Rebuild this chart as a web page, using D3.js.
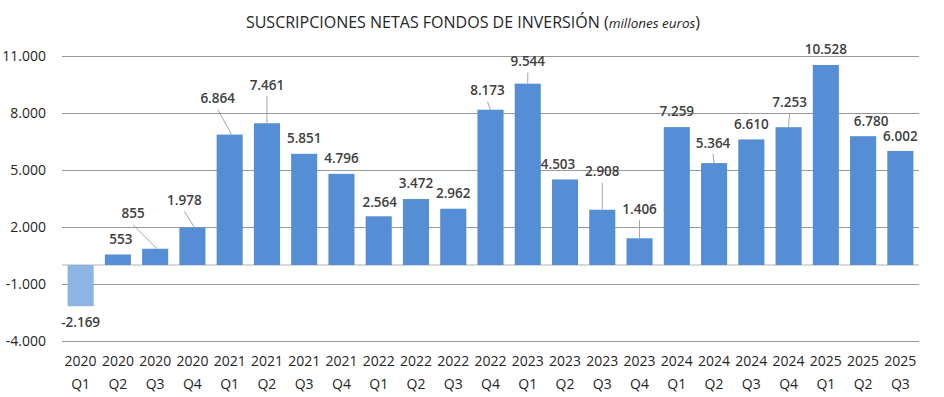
<!DOCTYPE html>
<html>
<head>
<meta charset="utf-8">
<script src="https://cdn.jsdelivr.net/npm/d3@7"></script>
<style>
  html, body { margin: 0; padding: 0; background: #fff; }
  svg { display: block; font-family: "Open Sans", "Noto Sans", sans-serif; }
</style>
</head>
<body>
<div id="chart"></div>
<script>
// data
const years = ['2020', '2020', '2020', '2020', '2021', '2021', '2021', '2021', '2022', '2022', '2022', '2022',
  '2023', '2023', '2023', '2023', '2024', '2024', '2024', '2024', '2025', '2025', '2025'];
const quarters = ['Q1', 'Q2', 'Q3', 'Q4', 'Q1', 'Q2', 'Q3', 'Q4', 'Q1', 'Q2', 'Q3', 'Q4',
  'Q1', 'Q2', 'Q3', 'Q4', 'Q1', 'Q2', 'Q3', 'Q4', 'Q1', 'Q2', 'Q3'];
const values = [-2169, 553, 855, 1978, 6864, 7461, 5851, 4796, 2564, 3472, 2962, 8173,
  9544, 4503, 2908, 1406, 7259, 5364, 6610, 7253, 10528, 6780, 6002];
const yTicks = [-4000, -1000, 2000, 5000, 8000, 11000];

// label placement tweaks (offset from bar end), and which labels get a leader line
const labelDx = [0, 3, -22, -8, -12, 0, 0, 0, 1, 0, 0, -3, 0, -7, 0, 0, 0, -1, 0, 1, 0, 8, 0];
const labelDy = [16, -15, -35, -27, -36, -38, -16, -16, -14, -16, -15, -19, -22, -15, -38, -29, -16, -20, -15, -25, -16, -15, -15];
const leader = [0, 0, 1, 1, 1, 1, 0, 0, 0, 0, 0, 1, 1, 0, 1, 1, 0, 1, 0, 1, 0, 0, 0];

const W = 944, H = 397;
const keys = values.map((_, i) => i);

const locale = d3.formatLocale({ decimal: ',', thousands: '.', grouping: [3], currency: ['', '€'], minus: '-' });
const fmt = locale.format(',d');

const svg = d3.select('#chart').append('svg')
  .attr('width', W)
  .attr('height', H);

const x = d3.scaleBand()
  .domain(keys)
  .range([62, 919])
  .paddingInner(0.3)
  .paddingOuter(0.15);

const y = d3.scaleLinear()
  .domain([-4000, 11000])
  .range([341, 56]);

// title
const title = svg.append('text')
  .attr('x', 473)
  .attr('y', 28)
  .attr('text-anchor', 'middle')
  .attr('fill', '#262626')
  .attr('font-size', '16px');
title.append('tspan').text('SUSCRIPCIONES NETAS FONDOS DE INVERSIÓN (');
title.append('tspan').attr('font-style', 'italic').attr('font-size', '13.5px').text('millones euros');
title.append('tspan').text(')');

// grid + y labels
const yAxis = svg.append('g')
  .attr('transform', 'translate(62,0)')
  .call(d3.axisLeft(y).tickValues(yTicks).tickSize(-857).tickPadding(16).tickFormat(fmt));
yAxis.select('.domain').remove();
yAxis.selectAll('.tick line').attr('stroke', '#999').attr('stroke-width', 1.2);
yAxis.selectAll('.tick text')
  .attr('fill', '#262626')
  .attr('font-size', '14px')
  .attr('font-family', '"Open Sans", sans-serif');

// zero line
svg.append('line')
  .attr('x1', 62).attr('x2', 919)
  .attr('y1', y(0)).attr('y2', y(0))
  .attr('stroke', '#d9d9d9')
  .attr('stroke-width', 2);

// bars
svg.selectAll('.bar')
  .data(keys)
  .enter()
  .append('rect')
  .attr('class', 'bar')
  .attr('x', (i) => x(i))
  .attr('width', x.bandwidth())
  .attr('y', (i) => y(Math.max(0, values[i])))
  .attr('height', (i) => Math.abs(y(values[i]) - y(0)))
  .attr('fill', (i) => (values[i] < 0 ? '#8db4e2' : '#558ed5'));

// leader lines
const cx = (i) => x(i) + x.bandwidth() / 2;
svg.selectAll('.leader')
  .data(keys.filter((i) => leader[i]))
  .enter()
  .append('line')
  .attr('class', 'leader')
  .attr('x1', (i) => cx(i) + labelDx[i])
  .attr('y1', (i) => y(values[i]) + labelDy[i] + 11)
  .attr('x2', (i) => cx(i) + (labelDx[i] < -5 ? 2 : 0))
  .attr('y2', (i) => y(values[i]))
  .attr('stroke', '#a6a6a6')
  .attr('stroke-width', 1);

// value labels
svg.selectAll('.val')
  .data(keys)
  .enter()
  .append('text')
  .attr('class', 'val')
  .attr('x', (i) => cx(i) + labelDx[i])
  .attr('y', (i) => y(values[i]) + labelDy[i])
  .attr('dy', '0.35em')
  .attr('text-anchor', 'middle')
  .attr('font-size', '13.5px')
  .attr('font-weight', 600)
  .attr('fill', '#404040')
  .text((i) => fmt(values[i]));

// x labels
const xl = svg.selectAll('.xlab')
  .data(keys)
  .enter()
  .append('text')
  .attr('class', 'xlab')
  .attr('text-anchor', 'middle')
  .attr('font-size', '14px')
  .attr('fill', '#262626');
xl.append('tspan').attr('x', cx).attr('y', 366).text((i) => years[i]);
xl.append('tspan').attr('x', cx).attr('y', 389).text((i) => quarters[i]);
</script>
</body>
</html>
